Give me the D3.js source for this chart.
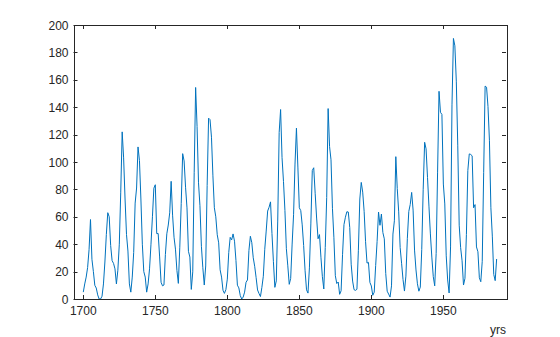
<!DOCTYPE html>
<html><head><meta charset="utf-8">
<script src="https://cdn.jsdelivr.net/npm/d3@7"></script>
<style>body{margin:0;background:#fff}svg{display:block}</style>
</head><body>
<script>
const startYear = 1700;
const sunspots = [5,11,16,23,36,58,29,20,10,8,3,0,0,2,11,27,47,63,60,39,
28,26,22,11,21,40,78,122,103,73,47,35,11,5,16,34,70,81,111,101,
73,40,20,16,5,11,22,40,60,80.9,83.4,47.7,47.8,30.7,12.2,9.6,10.2,32.4,47.6,54.0,
62.9,85.9,61.2,45.1,36.4,20.9,11.4,37.8,69.8,106.1,100.8,81.6,66.5,34.8,30.6,7.0,19.8,92.5,154.4,125.9,
84.8,68.1,38.5,22.8,10.2,24.1,82.9,132.0,130.9,118.1,89.9,66.6,60.0,46.9,41.0,21.3,16.0,6.4,4.1,6.8,
14.5,34.0,45.0,43.1,47.5,42.2,28.1,10.1,8.1,2.5,0.0,1.4,5.0,12.2,13.9,35.4,45.8,41.1,30.1,23.9,
15.6,6.6,4.0,1.8,8.5,16.6,36.3,49.6,64.2,67.0,70.9,47.8,27.5,8.5,13.2,56.9,121.5,138.3,103.2,85.7,
64.6,36.7,24.2,10.7,15.0,40.1,61.5,98.5,124.7,96.3,66.6,64.5,54.1,39.0,20.6,6.7,4.3,22.7,54.8,93.8,
95.8,77.2,59.1,44.0,47.0,30.5,16.3,7.3,37.6,74.0,139.0,111.2,101.6,66.2,44.7,17.0,11.3,12.4,3.4,6.0,
32.3,54.3,59.7,63.7,63.5,52.2,25.4,13.1,6.8,6.3,7.1,35.6,73.0,85.1,78.0,64.0,41.8,26.2,26.7,12.1,
9.5,2.7,5.0,24.4,42.0,63.5,53.8,62.0,48.5,43.9,18.6,5.7,3.6,1.4,9.6,47.4,57.1,103.9,80.6,63.6,
37.6,26.1,14.2,5.8,16.7,44.3,63.9,69.0,77.8,64.9,35.7,21.2,11.1,5.7,8.7,36.1,79.7,114.4,109.6,88.8,
67.8,47.5,30.6,16.3,9.6,33.2,92.6,151.6,136.3,134.7,83.9,69.4,31.5,13.9,4.4,38.0,141.7,190.2,184.8,159.0,
112.3,53.9,37.5,27.9,10.2,15.1,47.0,93.8,105.9,105.5,104.5,66.6,68.9,38.0,34.5,15.5,12.6,27.5,92.5,155.4,
154.6,140.5,115.9,66.6,45.9,17.9,13.4,29.2];
const years = sunspots.map((d,i)=>startYear+i);
const xTicks = [1700,1750,1800,1850,1900,1950];
const yTicks = [0,20,40,60,80,100,120,140,160,180,200];
const xLabel = "yrs";

const W=560,H=337, L=73.5,R=506,T=25,B=299;
const svg=d3.select("body").append("svg").attr("width",W).attr("height",H);
const x=d3.scaleLinear().domain([1693.2,1993.5]).range([L,R]);
const y=d3.scaleLinear().domain([0,200]).range([B,T]);
const col="#262626", font="Liberation Sans, Arial, sans-serif";

svg.append("rect").attr("x",L).attr("y",T).attr("width",R-L).attr("height",B-T).attr("fill","#fff");

svg.append("path").datum(sunspots)
  .attr("fill","none").attr("stroke","#0072BD").attr("stroke-width",1)
  .attr("stroke-linejoin","round")
  .attr("d",d3.line().x((d,i)=>x(years[i])).y(d=>y(d)));

const ax=svg.append("g").attr("font-family",font).attr("font-size",12).attr("fill",col);
const tl=4;
xTicks.forEach(t=>{
  const px=Math.round(x(t))+0.5;
  ax.append("line").attr("x1",px).attr("x2",px).attr("y1",B).attr("y2",B-tl).attr("stroke",col);
  ax.append("line").attr("x1",px).attr("x2",px).attr("y1",T).attr("y2",T+tl).attr("stroke",col);
  ax.append("text").attr("x",x(t)).attr("y",B+16).attr("text-anchor","middle").text(t);
});
yTicks.forEach(t=>{
  const py=Math.round(y(t))+0.5;
  ax.append("line").attr("x1",L).attr("x2",L+tl).attr("y1",py).attr("y2",py).attr("stroke",col);
  ax.append("line").attr("x1",R).attr("x2",R-tl).attr("y1",py).attr("y2",py).attr("stroke",col);
  ax.append("text").attr("x",L-5).attr("y",y(t)+4.5).attr("text-anchor","end").text(t);
});
svg.append("rect").attr("x",Math.round(L)+0.5).attr("y",T+0.5).attr("width",Math.round(R-L)).attr("height",B-T)
  .attr("fill","none").attr("stroke",col).attr("stroke-width",1);
ax.append("text").attr("x",R).attr("y",334).attr("text-anchor","end").text(xLabel);
</script>
</body></html>
